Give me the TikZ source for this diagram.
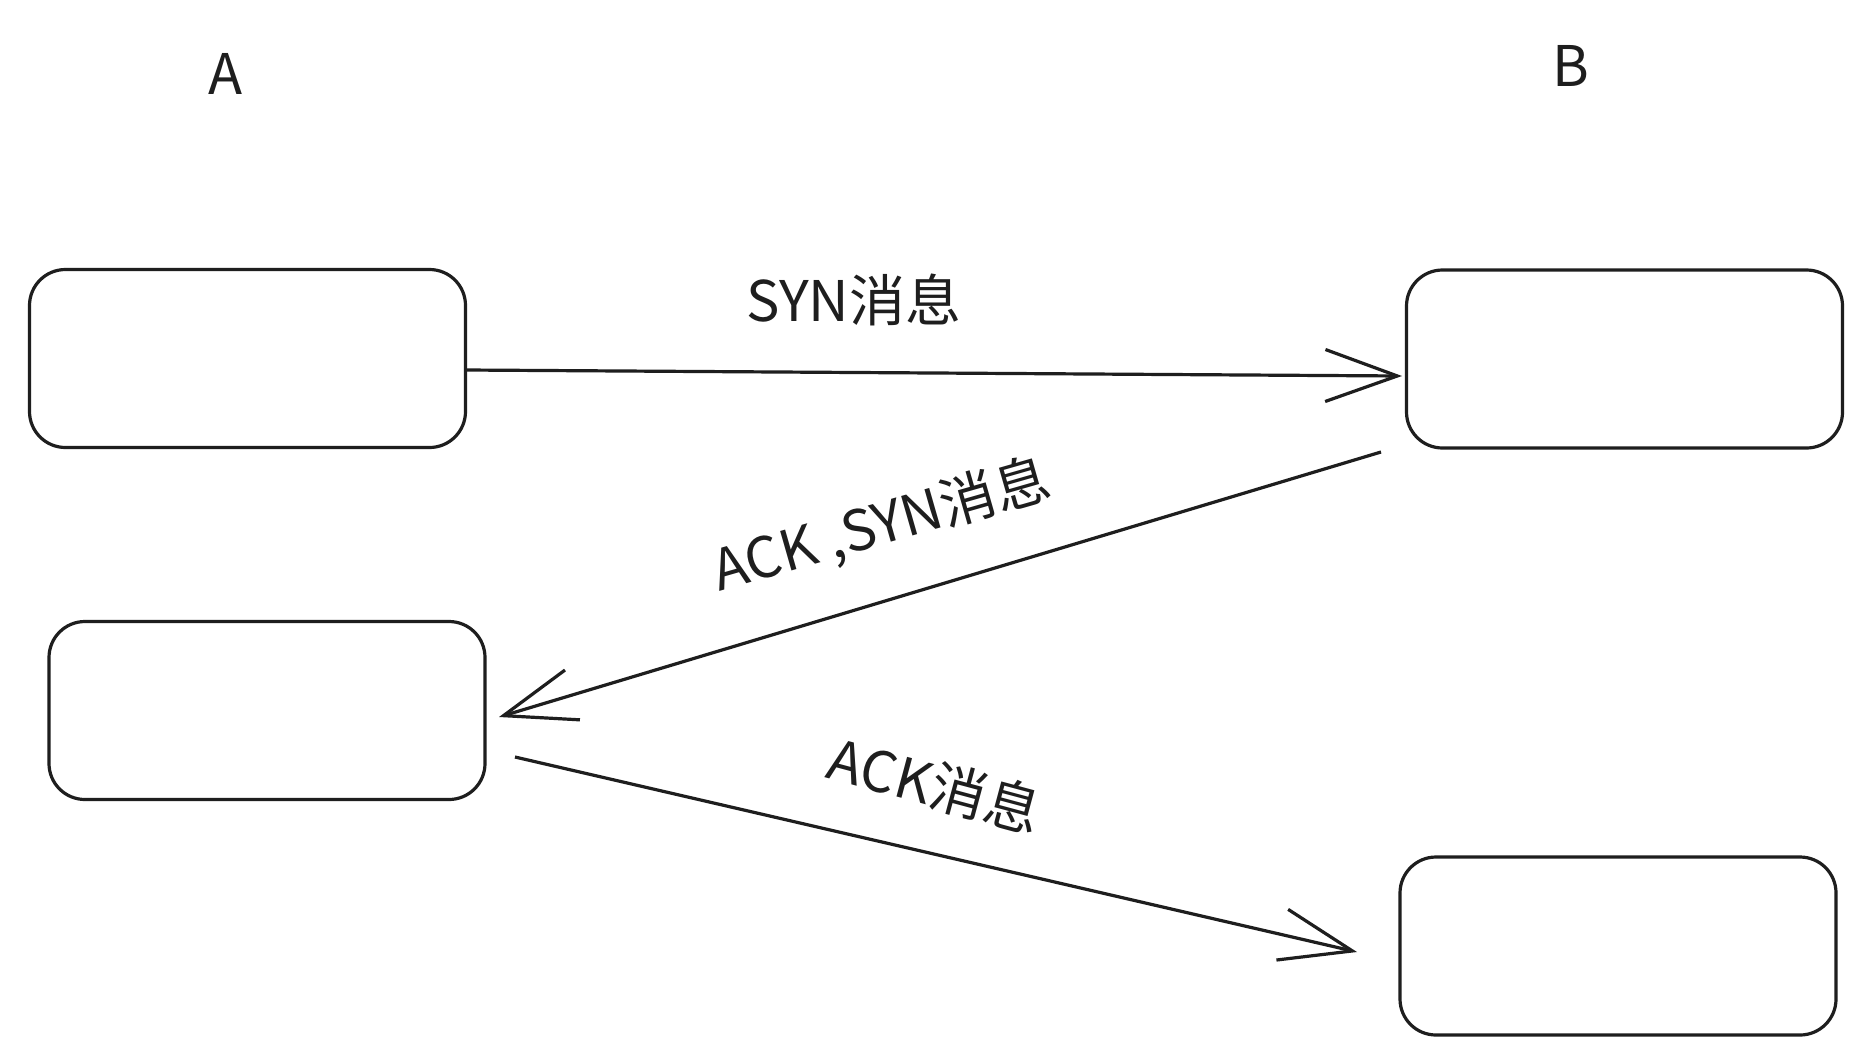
\documentclass[tikz,border=0pt]{standalone}
\usepackage{fontspec}
\newfontfamily\cjk{Noto Sans CJK SC}
\usetikzlibrary{arrows.meta}
\definecolor{ink}{HTML}{1E1E1E}
\begin{document}
\begin{tikzpicture}[x=1pt,y=-1pt,
  box/.style={draw=ink,line width=3.2pt,rounded corners=36pt,fill=white,
    minimum width=436pt,minimum height=178pt,inner sep=0pt},
  lbl/.style={text=ink,font=\cjk\fontsize{56}{64}\selectfont,inner sep=0pt},
  msg/.style={draw=ink,line width=3.2pt,
    -{Straight Barb[length=72pt,width=52pt,line width=3.2pt]}}]
\useasboundingbox[fill=white] (0,0) rectangle (1873,1063);
% boxes
\node[box] (A1) at (247.5,358.5) {};
\node[box] (B1) at (1624.5,359) {};
\node[box] (A2) at (267,710.5) {};
\node[box] (B2) at (1618,946) {};
% titles
\node[lbl] (tA) at (226,74) {A};
\node[lbl] (tB) at (1571,66) {B};
% endpoints
\coordinate (s1) at (466,370);
\coordinate (e1) at (1402,376);
\coordinate (s2) at (1381,452);
\coordinate (e2) at (499,717);
\coordinate (s3) at (515,757);
\coordinate (e3) at (1357,952);
% arrows
\draw[msg] (s1) -- (e1);
\draw[msg] (s2) -- (e2);
\draw[msg] (s3) -- (e3);
% labels
\node[lbl] (m1) at (854,300) {SYN消息};
\node[lbl,rotate=16] (m2) at (882,526) {ACK ,SYN消息};
\node[lbl,rotate=-15] (m3) at (935,785) {ACK消息};
\end{tikzpicture}
\end{document}
